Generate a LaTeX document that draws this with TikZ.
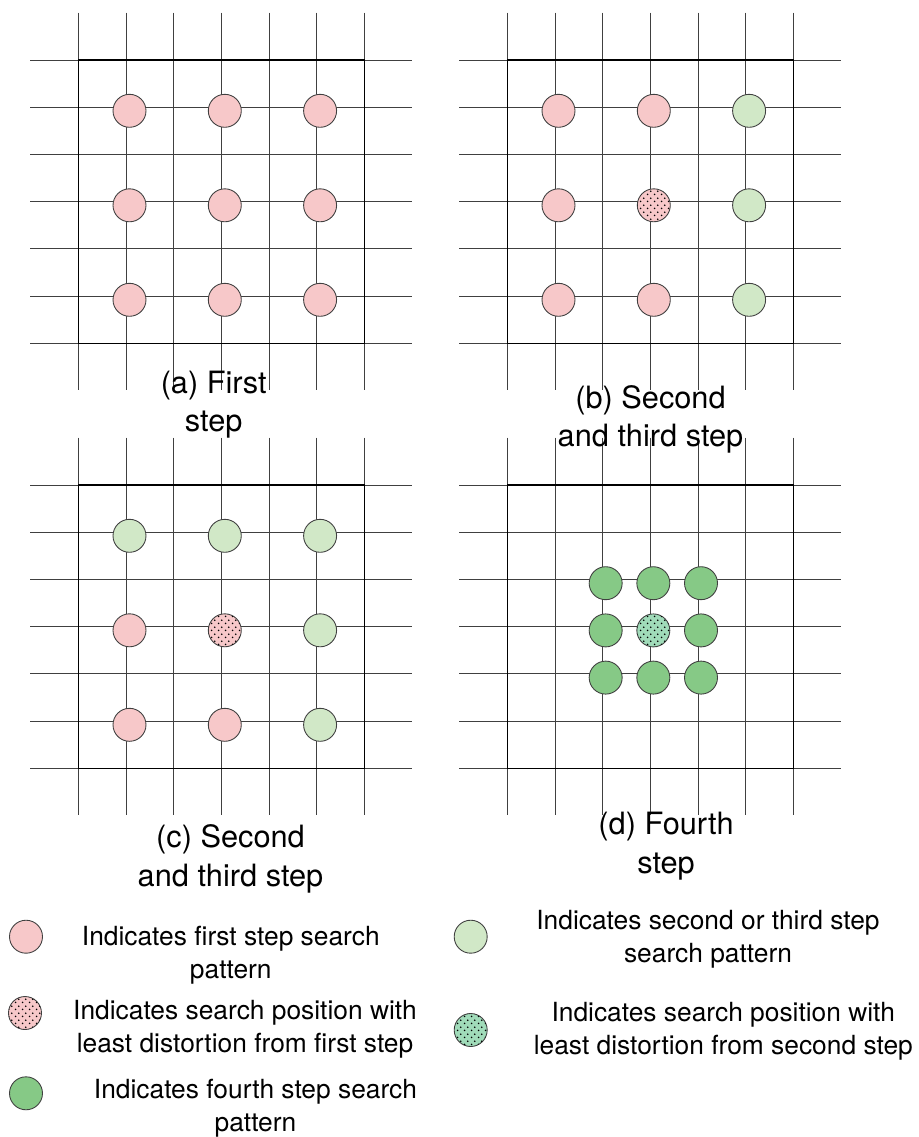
\documentclass[tikz,border=0pt]{standalone}
\usepackage{fontspec}
\setmainfont{TeX Gyre Heros}
\usetikzlibrary{patterns.meta}

\definecolor{firstpink}{HTML}{F7C8C9}
\definecolor{secondgreen}{HTML}{D1E8C7}
\definecolor{fourthgreen}{HTML}{86C986}
\definecolor{bestmint}{HTML}{A0DBB9}

\tikzdeclarepattern{
  name=sparsedots,
  type=uncolored,
  bounding box={(0pt,0pt) and (4pt,4pt)},
  tile size={(4pt,4pt)},
  code={
    \pgfpathcircle{\pgfpoint{1pt}{1pt}}{0.55pt}
    \pgfpathcircle{\pgfpoint{3pt}{3pt}}{0.55pt}
    \pgfusepath{fill}
  }
}

\begin{document}
\begin{tikzpicture}[x=0.02cm, y=-0.02cm,
    gridline/.style={draw=black!75, line width=0.5pt},
    frame/.style={draw=black, line width=0.7pt},
    searchpt/.style={circle, draw=black!75, line width=0.5pt, inner sep=0pt, minimum size=0.66cm},
    firstpt/.style={searchpt, fill=firstpink},
    secondpt/.style={searchpt, fill=secondgreen},
    fourthpt/.style={searchpt, fill=fourthgreen},
    firstbest/.style={searchpt, fill=firstpink, postaction={pattern=sparsedots, pattern color=black}},
    secondbest/.style={searchpt, fill=bestmint, postaction={pattern=sparsedots, pattern color=black}},
    caption/.style={align=center, font=\fontsize{17.5}{22}\selectfont},
    legend/.style={align=center, font=\fontsize{15}{19}\selectfont}]
    \useasboundingbox (0,0) rectangle (919,1137);

    % the four search grids
    \foreach \gx/\gy in {0/0,429/0,0/425,429/425} {
        \begin{scope}[shift={(\gx,\gy)}]
            \foreach \k in {0,...,6} {
                \draw[gridline] (78.3+47.67*\k,12.7) -- (78.3+47.67*\k,390);
                \draw[gridline] (30,60+47.2*\k) -- (412,60+47.2*\k);
            }
            \draw[frame] (78.3,60) rectangle (364.3,343.2);
        \end{scope}
    }

    % (a) first step
    \foreach \i in {1,2,3}
        \foreach \j in {1,2,3}
            \node[firstpt] (a\i\j) at (34.2+95.3*\i, 16.3+94.5*\j) {};

    % (b) second and third step
    \foreach \i/\j/\s in {1/1/firstpt,2/1/firstpt,3/1/secondpt,
                          1/2/firstpt,2/2/firstbest,3/2/secondpt,
                          1/3/firstpt,2/3/firstpt,3/3/secondpt}
        \node[\s] (b\i\j) at (463.2+95.3*\i, 16.3+94.5*\j) {};

    % (c) second and third step
    \foreach \i/\j/\s in {1/1/secondpt,2/1/secondpt,3/1/secondpt,
                          1/2/firstpt,2/2/firstbest,3/2/secondpt,
                          1/3/firstpt,2/3/firstpt,3/3/secondpt}
        \node[\s] (c\i\j) at (34.2+95.3*\i, 441.3+94.5*\j) {};

    % (d) fourth step
    \foreach \i/\j/\s in {1/1/fourthpt,2/1/fourthpt,3/1/fourthpt,
                          1/2/fourthpt,2/2/secondbest,3/2/fourthpt,
                          1/3/fourthpt,2/3/fourthpt,3/3/fourthpt}
        \node[\s] (d\i\j) at (558+47.67*\i, 536+47.2*\j) {};

    \node[caption] (capa) at (213.7,404.5) {(a) First\\step};
    \node[caption] (capb) at (650.5,419.5) {(b) Second\\and third step};
    \node[caption] (capc) at (230.5,859) {(c) Second\\and third step};
    \node[caption] (capd) at (666,846) {(d) Fourth\\step};

    % legend
    \node[firstpt] (keyfirst) at (26,936.7) {};
    \node[firstbest] (keyfirstbest) at (25,1013) {};
    \node[fourthpt] (keyfourth) at (26,1093.3) {};
    \node[secondpt] (keysecond) at (470.7,936.7) {};
    \node[secondbest] (keysecondbest) at (470.7,1030) {};

    \node[legend] (txtfirst) at (230.8,955.5) {Indicates first step search\\pattern};
    \node[legend] (txtfirstbest) at (245,1029.5) {Indicates search position with\\least distortion from first step};
    \node[legend] (txtfourth) at (255.5,1108.5) {Indicates fourth step search\\pattern};
    \node[legend] (txtsecond) at (708,939.5) {Indicates second or third step\\search pattern};
    \node[legend] (txtsecondbest) at (723.3,1031.5) {Indicates search position with\\least distortion from second step};
\end{tikzpicture}
\end{document}
